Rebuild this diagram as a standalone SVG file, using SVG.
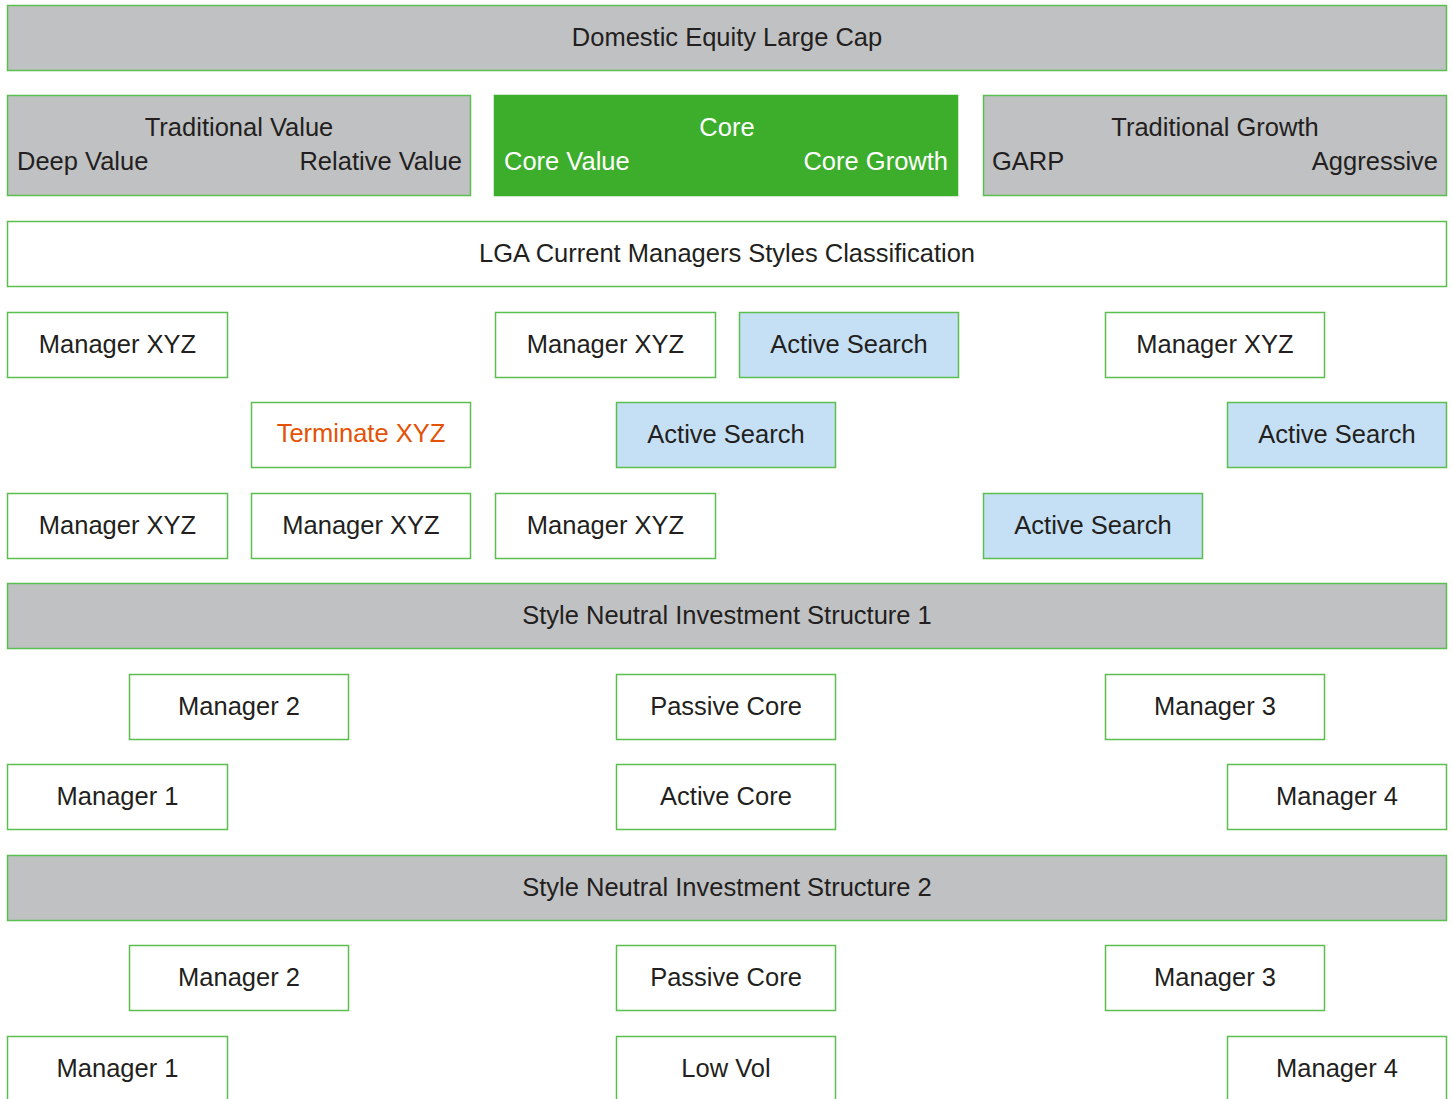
<svg xmlns="http://www.w3.org/2000/svg" width="1453" height="1099" viewBox="0 0 1453 1099">
<style>
rect{stroke:#5bbf4f;stroke-width:1.5}
rect.bg{stroke:none;fill:#fff}
.w{fill:#fff}.g{fill:#c0c1c3}.b{fill:#c5e0f4}.k{fill:#3dae2b;stroke:#3dae2b}
text{font-family:"Liberation Sans",Arial,sans-serif;font-size:25.5px;fill:#231f20}
.c{text-anchor:middle}.e{text-anchor:end}.wt{fill:#fff}.o{fill:#e35205}
</style>
<rect class="bg" width="1453" height="1099"/>
<g id="n-top"><rect class="g" x="7.5" y="5.5" width="1439" height="65"/><text class="c" x="727" y="46">Domestic Equity Large Cap</text></g>
<g id="n-tv"><rect class="g" x="7.5" y="95.5" width="463" height="100"/><text class="c" x="239" y="136">Traditional Value</text><text x="17" y="170">Deep Value</text><text class="e" x="462" y="170">Relative Value</text></g>
<g id="n-core"><rect class="k" x="494.5" y="95.5" width="463" height="100"/><text class="c wt" x="727" y="136">Core</text><text class="wt" x="504" y="170">Core Value</text><text class="e wt" x="948" y="170">Core Growth</text></g>
<g id="n-tg"><rect class="g" x="983.5" y="95.5" width="463" height="100"/><text class="c" x="1215" y="136">Traditional Growth</text><text x="992" y="170">GARP</text><text class="e" x="1438" y="170">Aggressive</text></g>
<g id="n-lga"><rect class="w" x="7.5" y="221.5" width="1439" height="65"/><text class="c" x="727" y="262">LGA Current Managers Styles Classification</text></g>
<g id="n-r1a"><rect class="w" x="7.5" y="312.5" width="220" height="65"/><text class="c" x="117.5" y="353">Manager XYZ</text></g>
<g id="n-r1b"><rect class="w" x="495.5" y="312.5" width="220" height="65"/><text class="c" x="605.5" y="353">Manager XYZ</text></g>
<g id="n-r1c"><rect class="b" x="739.5" y="312.5" width="219" height="65"/><text class="c" x="849" y="353">Active Search</text></g>
<g id="n-r1d"><rect class="w" x="1105.5" y="312.5" width="219" height="65"/><text class="c" x="1215" y="353">Manager XYZ</text></g>
<g id="n-r2a"><rect class="w" x="251.5" y="402.5" width="219" height="65"/><text class="c o" x="361" y="442">Terminate XYZ</text></g>
<g id="n-r2b"><rect class="b" x="616.5" y="402.5" width="219" height="65"/><text class="c" x="726" y="443">Active Search</text></g>
<g id="n-r2c"><rect class="b" x="1227.5" y="402.5" width="219" height="65"/><text class="c" x="1337" y="443">Active Search</text></g>
<g id="n-r3a"><rect class="w" x="7.5" y="493.5" width="220" height="65"/><text class="c" x="117.5" y="534">Manager XYZ</text></g>
<g id="n-r3b"><rect class="w" x="251.5" y="493.5" width="219" height="65"/><text class="c" x="361" y="534">Manager XYZ</text></g>
<g id="n-r3c"><rect class="w" x="495.5" y="493.5" width="220" height="65"/><text class="c" x="605.5" y="534">Manager XYZ</text></g>
<g id="n-r3d"><rect class="b" x="983.5" y="493.5" width="219" height="65"/><text class="c" x="1093" y="534">Active Search</text></g>
<g id="n-s1"><rect class="g" x="7.5" y="583.5" width="1439" height="65"/><text class="c" x="727" y="624">Style Neutral Investment Structure 1</text></g>
<g id="n-s1m2"><rect class="w" x="129.5" y="674.5" width="219" height="65"/><text class="c" x="239" y="715">Manager 2</text></g>
<g id="n-s1pc"><rect class="w" x="616.5" y="674.5" width="219" height="65"/><text class="c" x="726" y="715">Passive Core</text></g>
<g id="n-s1m3"><rect class="w" x="1105.5" y="674.5" width="219" height="65"/><text class="c" x="1215" y="715">Manager 3</text></g>
<g id="n-s1m1"><rect class="w" x="7.5" y="764.5" width="220" height="65"/><text class="c" x="117.5" y="805">Manager 1</text></g>
<g id="n-s1ac"><rect class="w" x="616.5" y="764.5" width="219" height="65"/><text class="c" x="726" y="805">Active Core</text></g>
<g id="n-s1m4"><rect class="w" x="1227.5" y="764.5" width="219" height="65"/><text class="c" x="1337" y="805">Manager 4</text></g>
<g id="n-s2"><rect class="g" x="7.5" y="855.5" width="1439" height="65"/><text class="c" x="727" y="896">Style Neutral Investment Structure 2</text></g>
<g id="n-s2m2"><rect class="w" x="129.5" y="945.5" width="219" height="65"/><text class="c" x="239" y="986">Manager 2</text></g>
<g id="n-s2pc"><rect class="w" x="616.5" y="945.5" width="219" height="65"/><text class="c" x="726" y="986">Passive Core</text></g>
<g id="n-s2m3"><rect class="w" x="1105.5" y="945.5" width="219" height="65"/><text class="c" x="1215" y="986">Manager 3</text></g>
<g id="n-s2m1"><rect class="w" x="7.5" y="1036.5" width="220" height="70"/><text class="c" x="117.5" y="1077">Manager 1</text></g>
<g id="n-s2lv"><rect class="w" x="616.5" y="1036.5" width="219" height="70"/><text class="c" x="726" y="1077">Low Vol</text></g>
<g id="n-s2m4"><rect class="w" x="1227.5" y="1036.5" width="219" height="70"/><text class="c" x="1337" y="1077">Manager 4</text></g>
<g id="connectors"></g>
</svg>
